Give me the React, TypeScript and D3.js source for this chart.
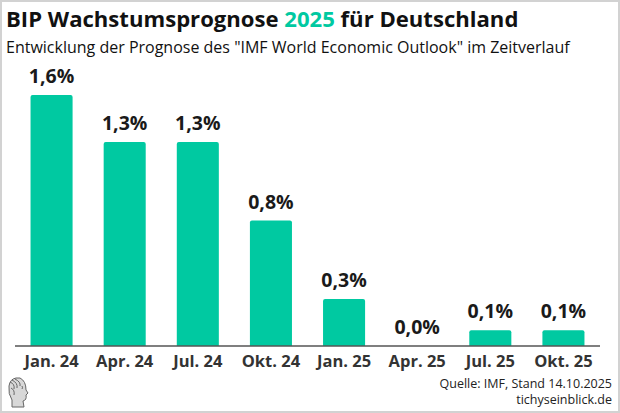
import * as d3 from "d3";

const W = 620;
const H = 413;

const categories = ["Jan. 24", "Apr. 24", "Jul. 24", "Okt. 24", "Jan. 25", "Apr. 25", "Jul. 25", "Okt. 25"];
const forecast = [1.6, 1.3, 1.3, 0.8, 0.3, 0.0, 0.1, 0.1];

const titleParts = ["BIP Wachstumsprognose ", "2025", " für Deutschland"];
const subtitle = 'Entwicklung der Prognose des "IMF World Economic Outlook" im Zeitverlauf';
const sourceLines = ["Quelle: IMF, Stand 14.10.2025", "tichyseinblick.de"];

const teal = "#00c9a1";
const font = "'Open Sans', 'Noto Sans', sans-serif";

const fmt = (v: number) => d3.format(".1f")(v).replace(".", ",") + "%";

export default function App() {
  const x = d3
    .scaleBand<string>()
    .domain(categories)
    .range([15, 600])
    .paddingInner(0.425)
    .paddingOuter(0.2125);

  const y = d3.scaleLinear().domain([0, 1.6]).range([346, 95]);
  const bw = x.bandwidth();

  return (
    <svg
      width={W}
      height={H}
      style={{ position: "absolute", left: 0, top: 0, background: "#fff" }}
      fontFamily={font}
    >
      <rect x={1} y={1} width={W - 2} height={H - 2} fill="#fff" stroke="#d2d2d2" strokeWidth={2} />

      {/* titles */}
      <text x={6} y={27} fontSize={22.1} fontWeight={700} fill="#111">
        {titleParts[0]}
        <tspan fill={teal}>{titleParts[1]}</tspan>
        {titleParts[2]}
      </text>
      <text x={6} y={53} fontSize={16} fill="#111">
        {subtitle}
      </text>

      {/* bars */}
      {categories.map((c, i) => {
        const v = forecast[i];
        const x0 = x(c)!;
        const top = y(v);
        const h = y(0) - top;
        return (
          <g key={c}>
            {h > 0 && (
              <path
                d={`M${x0},${y(0)}V${top + 2}Q${x0},${top} ${x0 + 2},${top}H${x0 + bw - 2}Q${x0 + bw},${top} ${x0 + bw},${top + 2}V${y(0)}Z`}
                fill={teal}
              />
            )}
            <text x={x0 + bw / 2} y={top - 12} textAnchor="middle" fontSize={19.5} fontWeight={700} fill="#1a1a1a">
              {fmt(v)}
            </text>
            <text x={x0 + bw / 2} y={367} textAnchor="middle" fontSize={16.5} fontWeight={700} fill="#333">
              {c}
            </text>
          </g>
        );
      })}

      {/* axis */}
      <line x1={15} x2={600} y1={y(0)} y2={y(0)} stroke="#555" strokeWidth={1.5} />

      {/* source */}
      {sourceLines.map((s, i) => (
        <text key={s} x={612} y={388 + i * 16} textAnchor="end" fontSize={12.5} fill="#222">
          {s}
        </text>
      ))}

      {/* logo */}
      <g transform="translate(6,376)" fill="none" stroke="#666" strokeWidth={1}>
        <path d="M10,2 Q4,3 3,10 Q2,18 6,24 L6,31 L18,31 L17,25 Q21,24 20,19 L22,17 L20,14 Q20,5 14,2 Z" fill="#d8d8d8" />
        <path d="M4,6 Q9,8 8,13 M6,4 Q12,7 11,12 M5,12 Q9,14 8,19 M9,3 Q15,6 14,10" />
        <path d="M16,10 Q17,12 16,13" />
      </g>
    </svg>
  );
}
